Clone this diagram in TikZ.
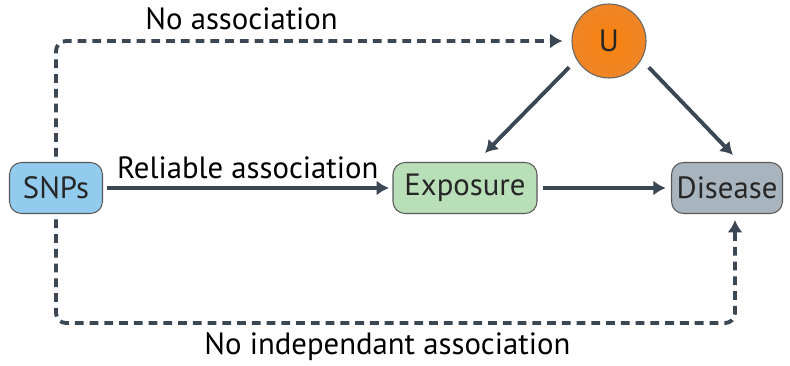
\documentclass[tikz,border=0pt]{standalone}
\usepackage{fontspec}
\setmainfont{PT Sans}
\usepackage{xcolor}
\usetikzlibrary{shapes,arrows,positioning,calc,arrows.meta}

\definecolor{linegray}{HTML}{3B4752}
\definecolor{snpblue}{HTML}{92CBEE}
\definecolor{expgreen}{HTML}{B9DFB9}
\definecolor{disgray}{HTML}{A8B4BE}
\definecolor{uorange}{HTML}{EE8526}

\begin{document}
\begin{tikzpicture}[
        font=\fontsize{17.5}{20}\selectfont,
        box/.style={draw=black!65, line width=0.6pt, rounded corners=0.24cm, minimum height=1.02cm, inner sep=2pt, text=black!85},
        arr/.style={draw=linegray, line width=2.2pt, -{Latex[length=7pt,width=8.5pt]}},
        dasharr/.style={arr, dash pattern=on 5pt off 3.4pt, rounded corners=0.2cm}
    ]

        \useasboundingbox (0,0) rectangle (15.8,7.3);

        % nodes
        \node[box, fill=snpblue, minimum width=1.86cm] (snp) at (1.12,3.54) {SNPs};
        \node[box, fill=expgreen, minimum width=2.88cm] (expo) at (9.3,3.54) {Exposure};
        \node[box, fill=disgray, minimum width=2.22cm] (dis) at (14.54,3.54) {Disease};
        \node[circle, draw=black!60, line width=0.6pt, minimum size=1.48cm, inner color=orange!60!uorange, outer color=uorange, text=black!85] (U) at (12.18,6.48) {U};

        % solid arrows
        \draw[arr, shorten <=2pt, shorten >=2pt] (snp) -- node[above, yshift=1pt] {Reliable association} (expo);
        \draw[arr, shorten <=3pt, shorten >=3pt] (expo) -- (dis);
        \draw[arr, shorten <=6pt] (U.-150) -- ([xshift=0.4cm,yshift=0.18cm]expo.north);
        \draw[arr, shorten <=6pt] (U.-30) -- ([xshift=0.12cm,yshift=0.14cm]dis.north);

        % dashed arrows
        \draw[dasharr, shorten <=3pt, shorten >=0.18cm] (snp.north) |- node[pos=0.68, above, yshift=2pt] {No association} (U.west);
        \draw[dasharr, shorten <=3pt, shorten >=0.12cm] (snp.south) -- ++(0,-2.18) -| node[pos=0.244, below, yshift=-1pt] {No independant association} ([xshift=0.16cm]dis.south);

\end{tikzpicture}
\end{document}
